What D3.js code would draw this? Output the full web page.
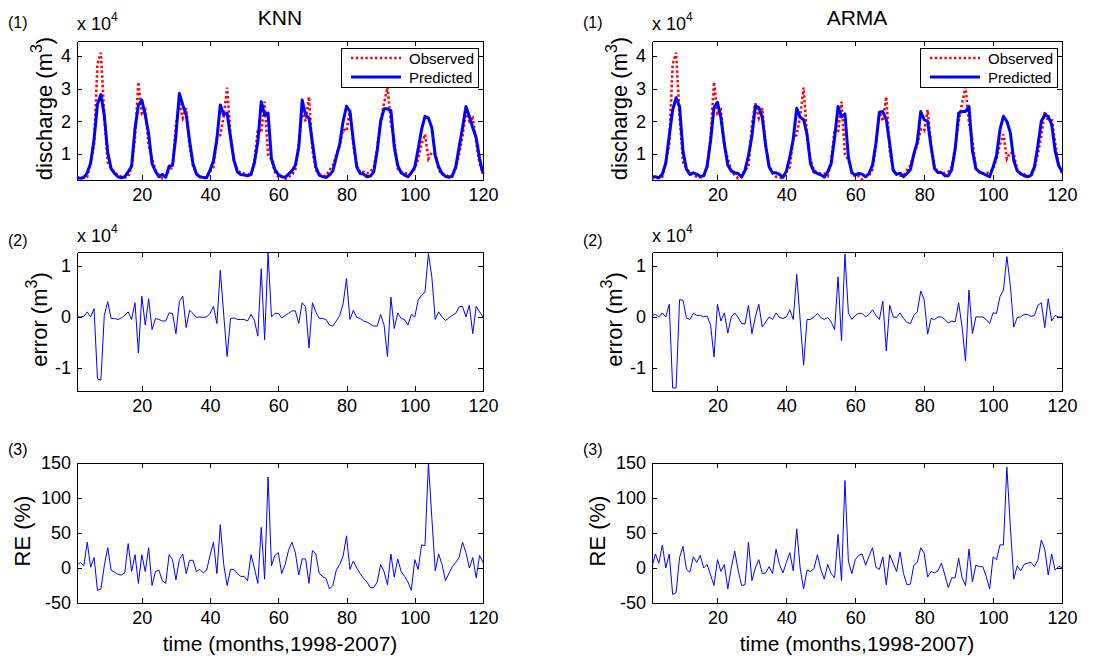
<!DOCTYPE html>
<html lang="en">
<head>
<meta charset="UTF-8">
<title>KNN vs ARMA discharge</title>
<style>
  body { margin: 0; background: #fff; }
  svg { display: block; font-family: "Liberation Sans", Arial, sans-serif; }
  .axis text { font-size: 18px; fill: #000; }
  .axis path, .axis line { stroke: #000; shape-rendering: crispEdges; }
</style>
</head>
<body>
<svg id="chart" width="1119" height="662"></svg>
<script src="https://cdn.jsdelivr.net/npm/d3@7/dist/d3.min.js"></script>
<script>
// monthly values, Jan 1998 .. Dec 2007 (discharge and error in 10^4 m3, RE in %)
var observed = [
  0.27, 0.25, 0.27, 0.30, 0.72, 1.30, 3.75, 4.10, 2.15, 0.75, 0.55, 0.42,
  0.35, 0.30, 0.28, 0.30, 0.60, 1.50, 3.20, 2.24, 2.35, 1.25, 0.85, 0.50,
  0.35, 0.25, 0.30, 0.50, 0.60, 1.90, 2.55, 2.10, 2.40, 1.25, 0.64, 0.40,
  0.30, 0.28, 0.27, 0.45, 0.60, 1.50, 1.58, 2.15, 3.03, 1.55, 0.82, 0.50,
  0.42, 0.40, 0.40, 0.32, 0.80, 1.75, 1.65, 2.60, 0.98, 0.82, 0.45, 0.30,
  0.32, 0.22, 0.30, 0.35, 0.52, 1.30, 2.30, 2.00, 2.75, 1.10, 0.50, 0.38,
  0.33, 0.33, 0.50, 0.65, 0.98, 1.27, 1.75, 1.70, 2.35, 1.27, 0.61, 0.43,
  0.45, 0.40, 0.45, 0.60, 1.20, 2.00, 2.55, 3.05, 1.95, 1.40, 0.55, 0.45,
  0.40, 0.42, 0.42, 0.55, 0.85, 1.30, 1.60, 0.85, 1.05, 1.00, 0.50, 0.38,
  0.38, 0.30, 0.30, 0.55, 1.00, 1.55, 2.30, 2.00, 2.10, 1.35, 0.70, 0.40
];
var knnPredicted = [
  0.28, 0.25, 0.28, 0.42, 0.72, 1.45, 2.52, 2.82, 2.18, 1.05, 0.55, 0.40,
  0.30, 0.27, 0.30, 0.45, 0.62, 1.78, 2.49, 2.65, 2.19, 1.61, 0.70, 0.47,
  0.30, 0.37, 0.28, 0.62, 0.65, 1.57, 2.85, 2.50, 2.20, 1.40, 0.70, 0.38,
  0.30, 0.28, 0.27, 0.50, 0.80, 1.45, 2.50, 2.20, 2.25, 1.50, 0.80, 0.45,
  0.37, 0.35, 0.33, 0.37, 0.73, 1.37, 2.60, 2.20, 2.25, 0.85, 0.52, 0.37,
  0.30, 0.28, 0.38, 0.48, 0.65, 1.20, 2.65, 2.20, 2.10, 1.35, 0.60, 0.35,
  0.30, 0.28, 0.35, 0.48, 0.90, 1.30, 2.00, 2.46, 2.30, 1.40, 0.60, 0.40,
  0.38, 0.30, 0.32, 0.45, 1.10, 2.00, 2.38, 2.38, 2.33, 1.20, 0.65, 0.42,
  0.35, 0.30, 0.42, 0.60, 1.15, 1.75, 2.15, 2.10, 1.80, 0.95, 0.60, 0.40,
  0.31, 0.28, 0.33, 0.60, 1.20, 1.80, 2.45, 2.15, 1.80, 1.50, 0.85, 0.40
];
var armaPredicted = [
  0.30, 0.30, 0.27, 0.38, 0.72, 1.55, 2.35, 2.72, 2.45, 1.08, 0.53, 0.37,
  0.42, 0.38, 0.31, 0.33, 0.62, 1.40, 2.42, 2.58, 2.10, 1.30, 0.65, 0.48,
  0.42, 0.40, 0.29, 0.50, 0.95, 1.55, 2.47, 2.42, 2.12, 1.25, 0.60, 0.42,
  0.42, 0.37, 0.28, 0.47, 0.90, 1.45, 2.40, 2.12, 2.05, 1.60, 0.70, 0.45,
  0.40, 0.36, 0.29, 0.45, 0.70, 1.50, 2.45, 2.13, 2.23, 0.90, 0.42, 0.35,
  0.40, 0.38, 0.30, 0.40, 0.66, 1.33, 2.28, 2.30, 2.05, 1.30, 0.50, 0.37,
  0.41, 0.30, 0.40, 0.52, 1.00, 1.37, 2.30, 2.05, 2.00, 1.22, 0.55, 0.43,
  0.43, 0.33, 0.33, 0.52, 1.15, 2.25, 2.30, 2.30, 2.45, 1.10, 0.55, 0.45,
  0.40, 0.35, 0.30, 0.60, 0.95, 1.75, 2.15, 2.00, 1.65, 0.80, 0.48, 0.40,
  0.33, 0.30, 0.35, 0.60, 1.25, 2.00, 2.20, 2.15, 1.90, 1.10, 0.65, 0.45
];
var knnError = [
  0, 0, 0.01, 0.10, 0, 0.16, -1.22, -1.25, 0.03, 0.30, -0.03, -0.03,
  -0.05, -0.02, 0.03, 0.10, -0.05, 0.28, -0.71, 0.41, -0.16, 0.36, -0.25, -0.03,
  -0.05, -0.08, -0.08, 0.08, 0.07, -0.33, 0.30, 0.41, -0.21, 0.13, 0.07, -0.01,
  0, -0.01, 0, 0.07, 0.21, -0.13, 0.92, 0.05, -0.78, -0.03, -0.02, -0.05,
  -0.05, -0.05, -0.08, 0.05, -0.07, -0.38, 0.95, -0.45, 1.27, 0, 0.07, 0.07,
  -0.02, 0.03, 0.07, 0.12, 0.12, -0.13, 0.28, 0.20, -0.61, 0.28, 0.10, -0.03,
  -0.03, -0.05, -0.16, -0.18, -0.08, 0.03, 0.26, 0.76, -0.05, 0.13, -0.01, -0.03,
  -0.08, -0.10, -0.14, -0.18, -0.18, 0.05, -0.16, -0.78, 0.39, -0.23, 0.08, -0.03,
  -0.05, -0.16, 0.05, 0, 0.33, 0.43, 0.49, 1.25, 0.79, -0.05, 0.10, 0,
  -0.07, -0.02, 0.03, 0.07, 0.20, 0.21, 0, 0.23, -0.33, 0.21, 0.10, 0
];
var armaError = [
  0.03, 0.05, 0, 0.08, 0, 0.25, -1.40, -1.40, 0.34, 0.33, -0.02, -0.05,
  0.07, 0.03, 0.03, 0, 0.02, -0.16, -0.79, 0.25, -0.08, 0.08, -0.32, 0,
  0.08, -0.01, -0.13, -0.14, 0.23, -0.33, 0, 0.25, -0.20, -0.10, 0, -0.05,
  0.08, -0.01, -0.03, 0, 0.14, -0.05, 0.84, -0.05, -0.95, -0.05, -0.05, 0,
  0.07, -0.01, -0.05, -0.01, -0.10, -0.25, 0.79, -0.47, 1.24, 0.08, -0.05, 0.03,
  0.07, 0.07, 0, 0.05, 0.14, 0.03, -0.05, 0.31, -0.67, 0.23, 0, -0.01,
  0.08, -0.03, -0.11, -0.13, 0.03, 0.10, 0.51, 0.34, -0.34, -0.03, -0.05, 0,
  0, -0.05, -0.12, -0.08, -0.10, 0.28, -0.20, -0.87, 0.53, -0.33, 0, 0,
  0, -0.05, -0.13, 0.08, 0.07, 0.40, 0.53, 1.19, 0.62, -0.20, -0.01, 0,
  0.05, 0.05, 0.01, 0.03, 0.23, 0.28, -0.21, 0.36, -0.08, 0.03, 0, 0
];
var knnRE = [
  4, 8, 3, 37, 1, 15, -32, -30, 3, 29, -3, -6,
  -9, -10, -7, 35, -5, 19, -22, 19, -5, 29, -25, -5,
  -3, -18, -22, 19, 12, -17, 12, 20, -8, 11, 11, -5,
  -2, -7, -3, 18, 37, -8, 62, 5, -25, -2, -2, -8,
  -12, -12, -18, 19, 0, -22, 58, -16, 130, 3, 18, 22,
  -8, 5, 25, 37, 22, -10, 13, 13, -22, 25, 20, -8,
  -12, -15, -30, -25, -3, 5, 17, 46, -2, 10, 0, -8,
  -15, -20, -28, -28, -20, 5, -5, -24, 20, -13, 13, -5,
  -12, -20, -32, 12, -2, 33, 32, 150, 72, -4, 20, 5,
  -18, -8, 2, 8, 15, 37, 22, 0, 15, -14, 18, 8
];
var armaRE = [
  2, 20, 7, 33, 0, 20, -38, -35, 15, 31, -2, -6,
  16, 8, 18, 0, 5, -10, -25, 12, -5, 5, -30, 0,
  24, -3, -25, -24, 37, -18, 0, 12, -8, -7, 2, -8,
  27, 5, -7, 8, 22, -4, 56, 0, -30, -3, -5, -1,
  19, -2, -16, 5, -8, -14, 48, -18, 125, 10, -8, 12,
  18, 20, 4, 17, 29, 1, -2, 16, -24, 19, 7, -5,
  23, -8, -24, -23, 4, 8, 29, 21, -13, -5, -7, -4,
  7, -10, -28, -14, -14, 14, -14, -25, 27, -20, 4, 2,
  2, -12, -30, 16, 12, 33, 33, 144, 60, -16, 3, -4,
  5, 7, 8, 2, 11, 40, 27, -10, 20, -3, 2, 1
];

var xTicks = [20, 40, 60, 80, 100, 120];
var dischargeTicks = [1, 2, 3, 4];
var errorTicks = [-1, 0, 1];
var reTicks = [-50, 0, 50, 100, 150];
var legendLabels = ["Observed", "Predicted"];

var svg = d3.select("#chart");
var plain = function (d) { return String(d); };

var cols = [
  {title: "KNN", left: 77, right: 483, tag: 8, pred: knnPredicted, err: knnError, re: knnRE},
  {title: "ARMA", left: 652, right: 1062, tag: 583, pred: armaPredicted, err: armaError, re: armaRE}
];
var rows = [
  {top: 41, bottom: 180, domain: [0.2, 4.46], ticks: dischargeTicks, label: "discharge (m", sup: true, labelOff: 25, tag: "(1)", tagY: 28, scaleY: 30},
  {top: 252, bottom: 391, domain: [-1.46, 1.28], ticks: errorTicks, label: "error (m", sup: true, labelOff: 30, tag: "(2)", tagY: 246, scaleY: 242},
  {top: 463, bottom: 603, domain: [-50, 150], ticks: reTicks, label: "RE (%)", sup: false, labelOff: 47, tag: "(3)", tagY: 455}
];

function drawPanel(col, row, ri) {
  var x = d3.scaleLinear().domain([1, 120]).range([col.left, col.right]);
  var y = d3.scaleLinear().domain(row.domain).range([row.bottom, row.top]);
  var g = svg.append("g");

  g.append("g").attr("class", "axis")
    .attr("transform", "translate(0," + row.bottom + ")")
    .call(d3.axisBottom(x).tickValues(xTicks).tickFormat(plain).tickSize(-5).tickSizeOuter(0).tickPadding(8));
  g.append("g").attr("class", "axis")
    .attr("transform", "translate(0," + row.top + ")")
    .call(d3.axisTop(x).tickValues(xTicks).tickSize(-5).tickSizeOuter(0).tickFormat(""));
  g.append("g").attr("class", "axis")
    .attr("transform", "translate(" + col.left + ",0)")
    .call(d3.axisLeft(y).tickValues(row.ticks).tickFormat(plain).tickSize(-5).tickSizeOuter(0).tickPadding(6));
  g.append("g").attr("class", "axis")
    .attr("transform", "translate(" + col.right + ",0)")
    .call(d3.axisRight(y).tickValues(row.ticks).tickSize(-5).tickSizeOuter(0).tickFormat(""));

  var line = d3.line().x(function (d, i) { return x(i + 1); }).y(function (d) { return y(d); });

  if (ri === 0) {
    g.append("path").datum(observed)
      .attr("d", line).attr("fill", "none")
      .attr("stroke", "#ff0000").attr("stroke-width", 2.6)
      .attr("stroke-dasharray", "2.4,2.4");
    g.append("path").datum(col.pred)
      .attr("d", line).attr("fill", "none")
      .attr("stroke", "#0000ff").attr("stroke-width", 3)
      .attr("stroke-linejoin", "round");

    // legend
    var lx = col.right - 142, ly = row.top + 7;
    g.append("rect").attr("x", lx).attr("y", ly).attr("width", 137).attr("height", 39)
      .attr("fill", "#fff").attr("stroke", "#000").attr("shape-rendering", "crispEdges");
    var styles = [
      {stroke: "#ff0000", w: 2.6, dash: "2.4,2.4"},
      {stroke: "#0000ff", w: 3, dash: null}
    ];
    legendLabels.forEach(function (lab, k) {
      var yy = ly + 10 + k * 19;
      g.append("line").attr("x1", lx + 10).attr("x2", lx + 60).attr("y1", yy).attr("y2", yy)
        .attr("stroke", styles[k].stroke).attr("stroke-width", styles[k].w)
        .attr("stroke-dasharray", styles[k].dash);
      g.append("text").attr("x", lx + 68).attr("y", yy + 5.5)
        .attr("font-size", 15).text(lab);
    });

    g.append("text").attr("x", (col.left + col.right) / 2).attr("y", 25)
      .attr("text-anchor", "middle").attr("font-size", 21).text(col.title);
  } else {
    g.append("path").datum(ri === 1 ? col.err : col.re)
      .attr("d", line).attr("fill", "none")
      .attr("stroke", "#0000ff").attr("stroke-width", 1);
  }

  // panel tag and scale factor
  g.append("text").attr("x", col.tag).attr("y", row.tagY).attr("font-size", 16).text(row.tag);
  if (row.scaleY) {
    var s = g.append("text").attr("x", col.left).attr("y", row.scaleY).attr("font-size", 18);
    s.append("tspan").text("x 10");
    s.append("tspan").attr("font-size", 12).attr("dy", -9).text("4");
  }

  // y label
  var yl = g.append("text")
    .attr("transform", "translate(" + (col.left - row.labelOff) + "," + ((row.top + row.bottom) / 2 - 2) + ")rotate(-90)")
    .attr("text-anchor", "middle").attr("font-size", 22);
  yl.append("tspan").text(row.label);
  if (row.sup) {
    yl.append("tspan").attr("font-size", 16).attr("dy", -10).text("3");
    yl.append("tspan").attr("dy", 10).text(")");
  }

  if (ri === 2) {
    g.append("text").attr("x", (col.left + col.right) / 2).attr("y", 651)
      .attr("text-anchor", "middle").attr("font-size", 21).text("time (months,1998-2007)");
  }
}

cols.forEach(function (col) {
  rows.forEach(function (row, ri) { drawPanel(col, row, ri); });
});
</script>
</body>
</html>
